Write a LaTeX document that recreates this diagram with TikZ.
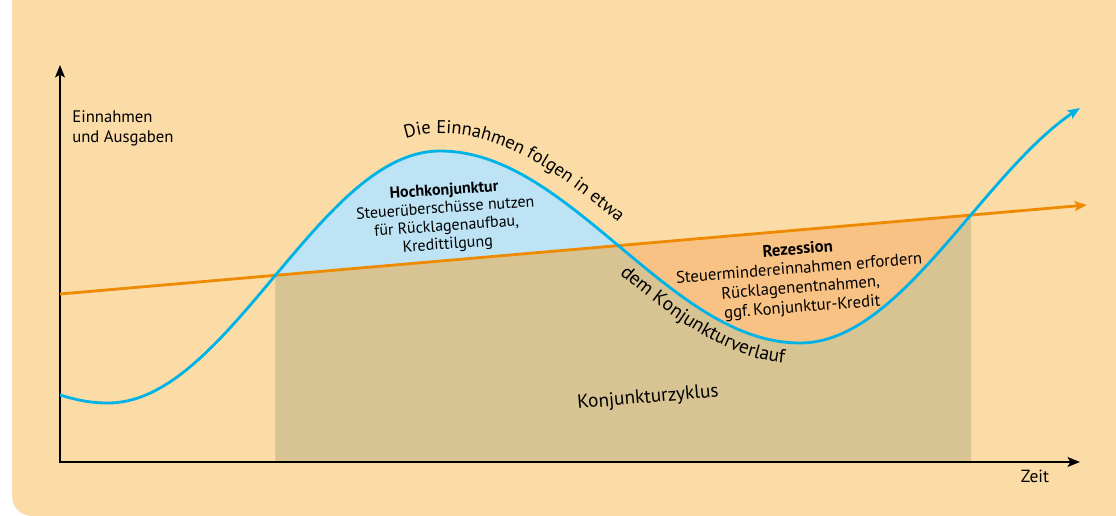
\documentclass[tikz,border=0pt]{standalone}
\usepackage{fontspec}
\setmainfont{PT Sans}
\usetikzlibrary{arrows.meta,decorations.text}
\definecolor{bgc}{HTML}{FBDCA7}
\definecolor{tanc}{HTML}{D8C493}
\definecolor{bluefill}{HTML}{BDE3F5}
\definecolor{orfill}{HTML}{F9C285}
\definecolor{bluec}{HTML}{00B3E6}
\definecolor{orc}{HTML}{EE8A00}
\begin{document}
\begin{tikzpicture}[x=0.02cm,y=-0.02cm,
  declare function={fb(\x)=277+126*cos((\x-108)/332*180);
                     fc(\x)=247-96*cos((\x-440)/360*180);
                     fd(\x)=216+127*cos((\x-800)/340*180);
                     sb(\x)=-1.1923*sin((\x-108)/332*180);
                     sc(\x)=0.8378*sin((\x-440)/360*180);
                     sd(\x)=-1.1735*sin((\x-800)/340*180);},
  tip/.style={-{Stealth[length=7pt,width=5.5pt,inset=1.5pt]}},
  axisline/.style={line width=1.5pt, line join=miter},
  lbl/.style={inner sep=0pt, font=\fontsize{9.5}{11}\selectfont},
  block/.style={inner sep=0pt, align=center},
  ]
\useasboundingbox (0,0) rectangle (1116,516);
\fill[bgc, rounded corners=0.4cm] (12,-40) -- (12,516) -- (1160,516) -- (1160,-40) -- cycle;
% coordinates of the trend line
\coordinate (A) at (60,294);
\coordinate (B) at (1087,205);
% tan area
\fill[tanc] (275.4,275.3) -- (971,215.05) -- (971,462) -- (275.4,462) -- cycle;
% blue area
\begin{scope}
\clip (60,294) -- (1087,205) -- (1087,0) -- (60,0) -- cycle;
\fill[bluefill] (260,470) -- plot[domain=260:440,samples=60] (\x,{fb(\x)})
  -- plot[domain=440:640,samples=60] (\x,{fc(\x)}) -- (640,470) -- cycle;
\end{scope}
% orange area
\begin{scope}
\clip (60,294) -- (1087,205) -- (1087,470) -- (60,470) -- cycle;
\fill[orfill] (600,0) -- plot[domain=600:800,samples=60] (\x,{fc(\x)})
  -- plot[domain=800:990,samples=60] (\x,{fd(\x)}) -- (990,0) -- cycle;
\end{scope}
% axes
\coordinate (O) at (60,462);
\coordinate (Ytop) at (60,65);
\coordinate (Xend) at (1080,462);
\draw[axisline, {Stealth[length=7pt,width=5.5pt,inset=1.5pt]}-{Stealth[length=7pt,width=5.5pt,inset=1.5pt]}] (Ytop) -- (O) -- (Xend);
% trend line
\draw[orc, line width=1.6pt, tip] (A) -- (B);
% income curve
\draw[bluec, line width=1.6pt, tip] (60,395) .. controls (80,401) and (92,403) .. (108,403)
  -- plot[domain=108:440,samples=80] (\x,{fb(\x)})
  -- plot[domain=440:800,samples=80] (\x,{fc(\x)})
  -- plot[domain=800:1080,samples=60] (\x,{fd(\x)});
% texts along offset copies of the curve
\path[decorate, decoration={text along path,
  text={|\fontsize{10.5}{13}\selectfont|Die Einnahmen folgen in etwa}}]
  plot[domain=411:440,samples=15] ({\x+17.5*sb(\x)/sqrt(1+sb(\x)^2)},{fb(\x)-17.5/sqrt(1+sb(\x)^2)})
  -- plot[domain=440:700,samples=90] ({\x+17.5*sc(\x)/sqrt(1+sc(\x)^2)},{fc(\x)-17.5/sqrt(1+sc(\x)^2)});
\path[decorate, decoration={text along path,
  text={|\fontsize{11}{13}\selectfont|dem Konjunkturverlauf}}]
  plot[domain=633:800,samples=80] ({\x-21*sc(\x)/sqrt(1+sc(\x)^2)},{fc(\x)+21/sqrt(1+sc(\x)^2)})
  -- plot[domain=800:900,samples=30] ({\x-21*sd(\x)/sqrt(1+sd(\x)^2)},{fd(\x)+21/sqrt(1+sd(\x)^2)});
% labels
\node[lbl, anchor=base west] (yl1) at (72,123) {Einnahmen};
\node[lbl, anchor=base west] (yl2) at (72,143) {und Ausgaben};
\node[lbl, anchor=base, font=\fontsize{10}{12}\selectfont] (xl) at (1035,483) {Zeit};
\node[block, rotate=4, font=\fontsize{9.1}{10.3}\selectfont] (hoch) at (446,218) {\textbf{Hochkonjunktur}\\Steuerüberschüsse nutzen\\für Rücklagenaufbau,\\Kredittilgung};
\node[block, rotate=4.5, font=\fontsize{9.5}{11}\selectfont] (rez) at (800,279) {\textbf{Rezession}\\Steuermindereinnahmen erfordern\\Rücklagenentnahmen,\\ggf.\,Konjunktur-Kredit};
\node[inner sep=0pt, rotate=5, font=\fontsize{11}{13}\selectfont] (kz) at (648,398) {Konjunkturzyklus};
\end{tikzpicture}
\end{document}
